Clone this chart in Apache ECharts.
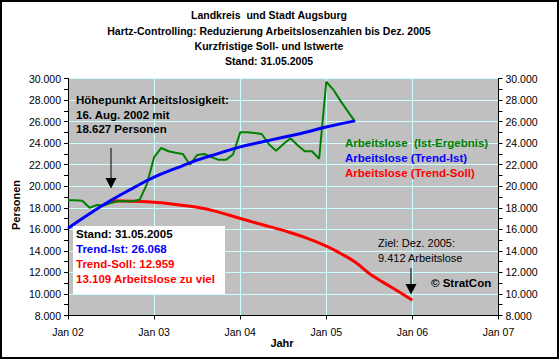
<!DOCTYPE html>
<html>
<head>
<meta charset="utf-8">
<script src="https://cdn.jsdelivr.net/npm/echarts@6/dist/echarts.min.js"></script>
<style>
html,body{margin:0;padding:0;background:#fff;}
#c{width:559px;height:359px;}
</style>
</head>
<body>
<div id="c"></div>
<script>
// ---- data ----
const istMonths = ['2002-01','2002-02','2002-03','2002-04','2002-05','2002-06','2002-07','2002-08','2002-09','2002-10','2002-11','2002-12',
  '2003-01','2003-02','2003-03','2003-04','2003-05','2003-06','2003-07','2003-08','2003-09','2003-10','2003-11','2003-12',
  '2004-01','2004-02','2004-03','2004-04','2004-05','2004-06','2004-07','2004-08','2004-09','2004-10','2004-11','2004-12',
  '2005-01','2005-02','2005-03','2005-04','2005-05'];
const istValues = [18700,18700,18650,18000,18250,18200,18450,18627,18600,18600,18750,20200,
  22700,23550,23250,23100,23000,22000,22900,23000,22700,22450,22450,22950,
  25000,25000,24950,24850,23900,23300,23900,24450,23800,23250,23250,22550,
  29700,28950,27900,26950,26000];
const trendIstMonths = ['2002-01','2002-04','2002-07','2002-10','2003-01','2003-04','2003-07','2003-10','2004-01','2004-04','2004-07','2004-10','2005-01','2005-05'];
const trendIstValues = [16100,17450,18700,19800,20850,21650,22420,23050,23650,24100,24550,24980,25500,26068];
const trendSollMonths = ['2002-07','2002-10','2003-01','2003-04','2003-07','2003-10','2004-01','2004-04','2004-07','2004-10','2005-01','2005-03','2005-05','2005-07','2005-09','2005-11','2006-01'];
const trendSollValues = [18650,18600,18520,18300,18050,17600,17000,16450,15900,15250,14450,13750,12959,11900,11050,10250,9412];
const titleLines = ['Landkreis  und Stadt Augsburg','Hartz-Controlling: Reduzierung Arbeitslosenzahlen bis Dez. 2005','Kurzfristige Soll- und Istwerte','Stand: 31.05.2005'];
const seriesNames = ['Arbeitslose  (Ist-Ergebnis)','Arbeitslose (Trend-Ist)','Arbeitslose (Trend-Soll)'];
const peakLines = ['Höhepunkt Arbeitslosigkeit:','16. Aug. 2002 mit','18.627 Personen'];
const boxLines = ['Stand: 31.05.2005','Trend-Ist: 26.068','Trend-Soll: 12.959','13.109 Arbeitslose zu viel'];
const zielLines = ['Ziel: Dez. 2005:','9.412 Arbeitslose'];

// ---- helpers ----
function toYear(s){ const p = s.split('-').map(Number); return p[0] + (p[1]-1)/12; }
function pairs(m, v){ return m.map((s,i)=>[toYear(s), v[i]]); }
function fmt(v){ return String(v).replace(/\B(?=(\d{3})+(?!\d))/g, '.'); }

const FF = "'Liberation Sans', Arial, sans-serif";
const GREEN = '#008000', BLUE = '#0000FF', RED = '#FF0000';

const chart = echarts.init(document.getElementById('c'), null, {renderer:'svg'});

function txt(x, y, t, color, size, bold, align){
  return {type:'text', z:100, style:{x:x, y:y, text:t, fill:color,
    font:(bold?'bold ':'') + size + 'px ' + FF, textAlign:align||'left', textVerticalAlign:'middle'}};
}

const graphics = [];
titleLines.forEach((t,i)=>graphics.push(txt(269, [15.3,30.7,46,61.3][i], t, '#000', 10.5, true, 'center')));
seriesNames.forEach((t,i)=>graphics.push(txt(345, [142.7,157.5,172.7][i], t, [GREEN,BLUE,RED][i], 11.5, true)));
peakLines.forEach((t,i)=>graphics.push(txt(76, [100,114.5,129.3][i], t, '#000', 11.5, true)));
graphics.push({type:'rect', z:90, shape:{x:73,y:226,width:152,height:68}, style:{fill:'#fff'}});
boxLines.forEach((t,i)=>graphics.push(txt(76, [233.5,249,264.2,279.4][i], t, ['#000',BLUE,RED,RED][i], 11.5, true)));
zielLines.forEach((t,i)=>graphics.push(txt(378, [243.3,258.3][i], t, '#000', 11, false)));
graphics.push(txt(431, 283.3, '© StratCon', '#000', 11.5, true));
// arrows
graphics.push({type:'line', z:95, shape:{x1:111,y1:148,x2:111,y2:180}, style:{stroke:'#000', lineWidth:1}});
graphics.push({type:'polygon', z:95, shape:{points:[[105.5,178],[116.5,178],[111,188.5]]}, style:{fill:'#000'}});
graphics.push({type:'line', z:95, shape:{x1:411,y1:268,x2:411,y2:286}, style:{stroke:'#000', lineWidth:1}});
graphics.push({type:'polygon', z:95, shape:{points:[[405.5,284],[416.5,284],[411,294.5]]}, style:{fill:'#000'}});
// axis names
graphics.push({type:'text', z:100, x:16, y:205, rotation:Math.PI/2, style:{x:0,y:0,text:'Personen', fill:'#000', font:'bold 11px '+FF, textAlign:'center', textVerticalAlign:'middle'}});
graphics.push(txt(282, 343, 'Jahr', '#000', 11, true, 'center'));
// outer frame
graphics.push({type:'rect', z:100, shape:{x:1,y:1,width:557,height:357}, style:{fill:'none', stroke:'#000', lineWidth:2}});

function yAx(pos){
  return {type:'value', position:pos, min:8000, max:30000, interval:2000,
    axisLine:{show:true, lineStyle:{color:'#000', width:1}},
    axisTick:{show:true, length:4, lineStyle:{color:'#000'}},
    minorTick:{show:true, splitNumber:2, length:4, lineStyle:{color:'#000'}},
    axisLabel:{formatter:fmt, color:'#000', fontSize:10.5, fontFamily:FF, margin:7},
    splitLine:{show: pos==='left', lineStyle:{color:'#CCFFFF', width:1}}};
}

chart.setOption({
  animation:false,
  backgroundColor:'#fff',
  grid:{left:68, right:60.5, top:78.5, bottom:43.5, show:true, backgroundColor:'#C0C0C0', borderWidth:0},
  xAxis:{type:'value', min:2002, max:2007, interval:1,
    axisLine:{show:true, onZero:false, lineStyle:{color:'#000'}},
    axisTick:{show:true, length:4, lineStyle:{color:'#000'}},
    axisLabel:{formatter:v=>'Jan ' + String(v).slice(2), color:'#000', fontSize:10.5, fontFamily:FF, margin:11},
    splitLine:{show:true, lineStyle:{color:'#CCFFFF', width:1}}},
  yAxis:[yAx('left'), yAx('right')],
  graphic:graphics,
  series:[
    {name:seriesNames[2], type:'line', data:pairs(trendSollMonths, trendSollValues), smooth:true, showSymbol:false, lineStyle:{color:RED, width:3}},
    {name:seriesNames[0], type:'line', data:pairs(istMonths, istValues), showSymbol:false, lineStyle:{color:GREEN, width:2}},
    {name:seriesNames[1], type:'line', data:pairs(trendIstMonths, trendIstValues), smooth:true, showSymbol:false, lineStyle:{color:BLUE, width:3}}
  ]
});
</script>
</body>
</html>
